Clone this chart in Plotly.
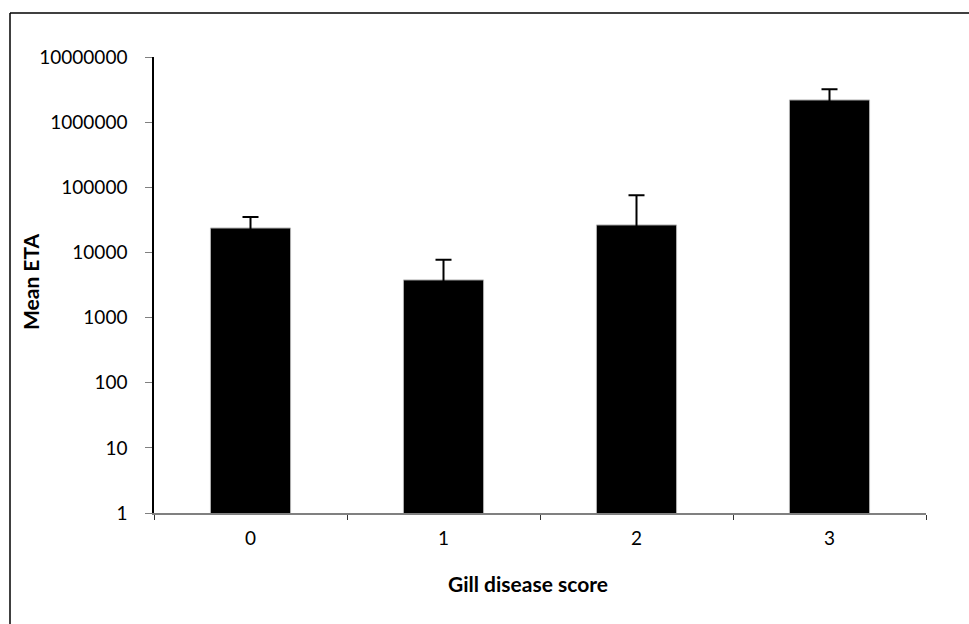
import plotly.graph_objects as go

categories = ["0", "1", "2", "3"]
mean_eta = [23700, 3780, 26400, 2190000]
error_up = [11300, 3960, 49000, 1000000]
ytick_vals = [1, 10, 100, 1000, 10000, 100000, 1000000, 10000000]
ytick_text = ["1", "10", "100", "1000", "10000", "100000", "1000000", "10000000"]
x_title = "Gill disease score"
y_title = "Mean ETA"

FONT = "Gill Sans, Gill Sans MT, Lato, sans-serif"
bar_marker = dict(color="black", line=dict(color="#b0b0b0", width=1))

fig = go.Figure()
# upward-only error bars: the lower end falls off the log axis so no lower cap is drawn
fig.add_trace(go.Bar(
    x=categories, y=mean_eta, width=0.415, marker=bar_marker,
    error_y=dict(type="data", symmetric=False, array=error_up,
                 arrayminus=mean_eta, color="black", thickness=2, width=8),
))

fig.update_layout(
    width=969, height=624,
    margin=dict(l=154, r=43, t=57, b=111),
    paper_bgcolor="white", plot_bgcolor="white",
    showlegend=False,
    font=dict(family=FONT, size=19, color="black"),
    xaxis=dict(
        type="category", tickson="boundaries", ticks="outside", ticklen=5,
        tickcolor="#333", showline=True, linecolor="#808080", linewidth=1.5,
        showgrid=False, zeroline=False, ticklabelstandoff=7,
    ),
    yaxis=dict(
        type="log", range=[0, 7], tickvals=ytick_vals, ticktext=ytick_text,
        ticks="outside", ticklen=7, tickcolor="#808080",
        showline=True, linecolor="black", linewidth=1.5,
        showgrid=False, zeroline=False, ticklabelstandoff=14,
    ),
    annotations=[
        dict(text="<b>" + x_title + "</b>", xref="paper", yref="paper",
             x=(528 - 154) / 772, y=(513 - 583) / 456, xanchor="center", yanchor="middle",
             showarrow=False, font=dict(size=21)),
        dict(text="<b>" + y_title + "</b>", xref="paper", yref="paper",
             x=(30 - 154) / 772, y=(513 - 282) / 456, xanchor="center", yanchor="middle",
             textangle=-90, showarrow=False, font=dict(size=21)),
    ],
    shapes=[
        dict(type="line", xref="paper", yref="paper",
             x0=(10 - 154) / 772, x1=(969 - 154) / 772,
             y0=(513 - 13) / 456, y1=(513 - 13) / 456,
             line=dict(color="black", width=1.5)),
        dict(type="line", xref="paper", yref="paper",
             x0=(10 - 154) / 772, x1=(10 - 154) / 772,
             y0=(513 - 13) / 456, y1=(513 - 624) / 456,
             line=dict(color="black", width=1.5)),
    ],
)

fig.write_html("out.html")
